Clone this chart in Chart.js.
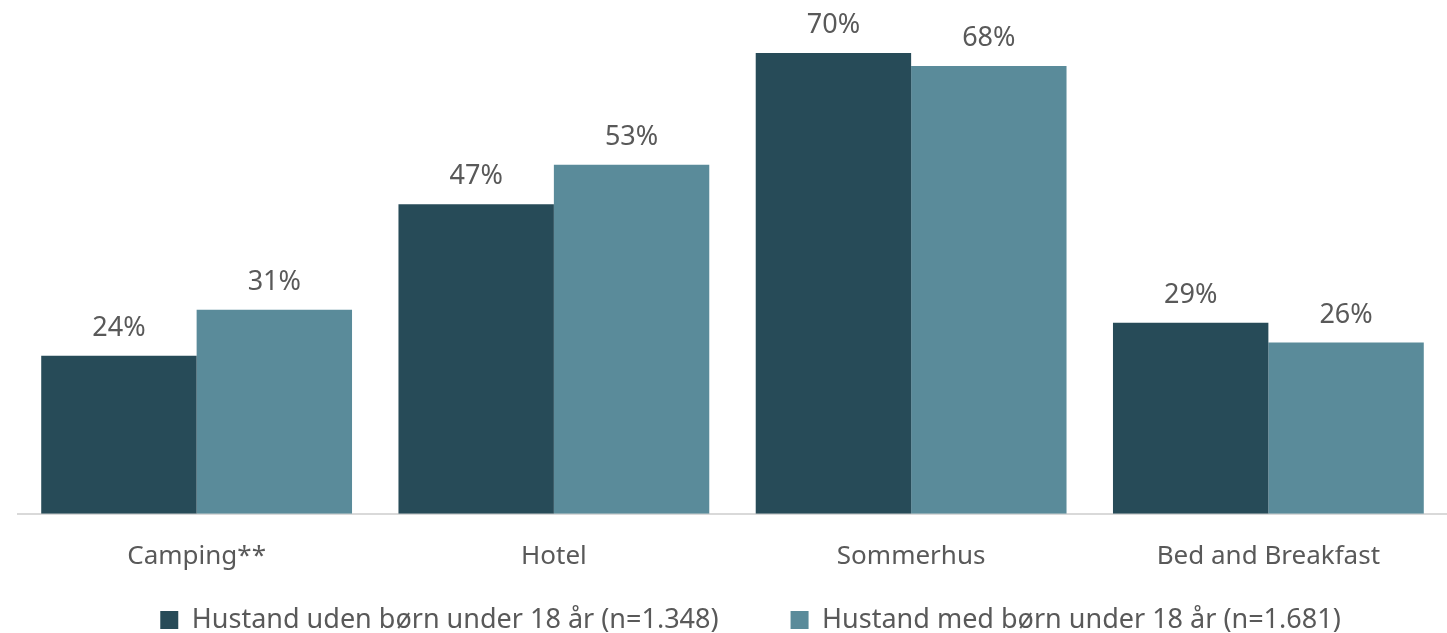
<!DOCTYPE html>
<html>
<head>
<meta charset="utf-8">
<script src="https://cdn.jsdelivr.net/npm/chart.js@4"></script>
<style>
    html, body { margin: 0; padding: 0; background: #fff; }
    #wrap { width: 1447px; height: 633px; position: relative; }
</style>
</head>
<body>
<div id="wrap"><canvas id="c"></canvas></div>
<script>
    // 数据
    var categories = ['Camping**', 'Hotel', 'Sommerhus', 'Bed and Breakfast'];
    var seriesNames = ['Hustand uden børn under 18 år (n=1.348)', 'Hustand med børn under 18 år (n=1.681)'];
    var utenBorn = [24, 47, 70, 29];
    var medBorn = [31, 53, 68, 26];
    var colors = ['#274b58', '#5a8b9a'];

    var FONT = '"Noto Sans", "Open Sans", sans-serif';
    var LEGEND_PAD = 72;      // 图例项之间的横向间距
    var LEGEND_FONT = 27;
    var LEGEND_BOX_H = 34;    // 图例在布局中占用的高度
    var LEGEND_CENTER_Y = 620;
    var LEGEND_SHIFT_X = 36;

    // 柱顶百分比标签
    var valueLabels = {
        id: 'valueLabels',
        afterDatasetsDraw: function (chart) {
            var ctx = chart.ctx;
            ctx.save();
            ctx.fillStyle = '#595959';
            ctx.font = '27px ' + FONT;
            ctx.textAlign = 'center';
            ctx.textBaseline = 'alphabetic';
            chart.data.datasets.forEach(function (ds, i) {
                chart.getDatasetMeta(i).data.forEach(function (bar, j) {
                    ctx.fillText(ds.data[j] + '%', bar.x, bar.y - 20);
                });
            });
            ctx.restore();
        }
    };

    // 图例：保留横向间距，压缩纵向占用
    var legendFit = {
        id: 'legendFit',
        beforeInit: function (chart) {
            var origFit = chart.legend.fit;
            chart.legend.fit = function () {
                origFit.call(this);
                this.height = LEGEND_BOX_H;
            };
        },
        afterLayout: function (chart) {
            var lg = chart.legend;
            lg.top = LEGEND_CENTER_Y - LEGEND_FONT / 2 - LEGEND_PAD;
            lg.bottom = chart.height;
            lg.height = lg.bottom - lg.top;
            lg.left += LEGEND_SHIFT_X;
            lg.width = lg.right - lg.left;
        }
    };

    new Chart(document.getElementById('c'), {
        type: 'bar',
        data: {
            labels: categories,
            datasets: [
                { label: seriesNames[0], data: utenBorn, backgroundColor: colors[0] },
                { label: seriesNames[1], data: medBorn, backgroundColor: colors[1] }
            ]
        },
        options: {
            responsive: true,
            maintainAspectRatio: false,
            animation: false,
            layout: { padding: { top: 20, left: 18, right: 0, bottom: 0 } },
            datasets: { bar: { barPercentage: 1, categoryPercentage: 0.87 } },
            scales: {
                x: {
                    grid: { display: false, drawTicks: false },
                    border: { color: '#d9d9d9', width: 2 },
                    ticks: { color: '#595959', font: { family: FONT, size: 26 }, padding: 27 }
                },
                y: {
                    display: false,
                    min: 0,
                    max: 75
                }
            },
            plugins: {
                legend: {
                    position: 'bottom',
                    labels: {
                        color: '#595959',
                        font: { family: FONT, size: LEGEND_FONT },
                        boxWidth: 18,
                        boxHeight: 18,
                        padding: LEGEND_PAD
                    }
                },
                tooltip: { enabled: false }
            }
        },
        plugins: [valueLabels, legendFit]
    });
</script>
</body>
</html>
